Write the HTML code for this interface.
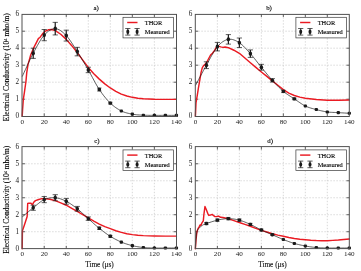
<!DOCTYPE html>
<html><head><meta charset="utf-8"><title>Electrical Conductivity</title>
<style>
html,body{margin:0;padding:0;background:#fff;}
body{width:361px;height:271px;overflow:hidden;font-family:"Liberation Serif",serif;}
svg{display:block;will-change:transform;filter:blur(0.25px);}
</style></head><body>
<svg width="361" height="271" viewBox="0 0 361 271"><g><line x1="44.23" y1="14.20" x2="44.23" y2="116.20" stroke="#bdbdbd" stroke-width="0.6" stroke-dasharray="1.4 1.6"/><line x1="66.26" y1="14.20" x2="66.26" y2="116.20" stroke="#bdbdbd" stroke-width="0.6" stroke-dasharray="1.4 1.6"/><line x1="88.29" y1="14.20" x2="88.29" y2="116.20" stroke="#bdbdbd" stroke-width="0.6" stroke-dasharray="1.4 1.6"/><line x1="110.31" y1="14.20" x2="110.31" y2="116.20" stroke="#bdbdbd" stroke-width="0.6" stroke-dasharray="1.4 1.6"/><line x1="132.34" y1="14.20" x2="132.34" y2="116.20" stroke="#bdbdbd" stroke-width="0.6" stroke-dasharray="1.4 1.6"/><line x1="154.37" y1="14.20" x2="154.37" y2="116.20" stroke="#bdbdbd" stroke-width="0.6" stroke-dasharray="1.4 1.6"/><line x1="22.20" y1="99.20" x2="176.40" y2="99.20" stroke="#bdbdbd" stroke-width="0.6" stroke-dasharray="1.4 1.6"/><line x1="22.20" y1="82.20" x2="176.40" y2="82.20" stroke="#bdbdbd" stroke-width="0.6" stroke-dasharray="1.4 1.6"/><line x1="22.20" y1="65.20" x2="176.40" y2="65.20" stroke="#bdbdbd" stroke-width="0.6" stroke-dasharray="1.4 1.6"/><line x1="22.20" y1="48.20" x2="176.40" y2="48.20" stroke="#bdbdbd" stroke-width="0.6" stroke-dasharray="1.4 1.6"/><line x1="22.20" y1="31.20" x2="176.40" y2="31.20" stroke="#bdbdbd" stroke-width="0.6" stroke-dasharray="1.4 1.6"/><line x1="44.23" y1="116.20" x2="44.23" y2="113.40" stroke="#3a3a3a" stroke-width="0.8"/><line x1="44.23" y1="14.20" x2="44.23" y2="17.00" stroke="#3a3a3a" stroke-width="0.8"/><line x1="66.26" y1="116.20" x2="66.26" y2="113.40" stroke="#3a3a3a" stroke-width="0.8"/><line x1="66.26" y1="14.20" x2="66.26" y2="17.00" stroke="#3a3a3a" stroke-width="0.8"/><line x1="88.29" y1="116.20" x2="88.29" y2="113.40" stroke="#3a3a3a" stroke-width="0.8"/><line x1="88.29" y1="14.20" x2="88.29" y2="17.00" stroke="#3a3a3a" stroke-width="0.8"/><line x1="110.31" y1="116.20" x2="110.31" y2="113.40" stroke="#3a3a3a" stroke-width="0.8"/><line x1="110.31" y1="14.20" x2="110.31" y2="17.00" stroke="#3a3a3a" stroke-width="0.8"/><line x1="132.34" y1="116.20" x2="132.34" y2="113.40" stroke="#3a3a3a" stroke-width="0.8"/><line x1="132.34" y1="14.20" x2="132.34" y2="17.00" stroke="#3a3a3a" stroke-width="0.8"/><line x1="154.37" y1="116.20" x2="154.37" y2="113.40" stroke="#3a3a3a" stroke-width="0.8"/><line x1="154.37" y1="14.20" x2="154.37" y2="17.00" stroke="#3a3a3a" stroke-width="0.8"/><line x1="22.20" y1="99.20" x2="25.00" y2="99.20" stroke="#3a3a3a" stroke-width="0.8"/><line x1="176.40" y1="99.20" x2="173.60" y2="99.20" stroke="#3a3a3a" stroke-width="0.8"/><line x1="22.20" y1="82.20" x2="25.00" y2="82.20" stroke="#3a3a3a" stroke-width="0.8"/><line x1="176.40" y1="82.20" x2="173.60" y2="82.20" stroke="#3a3a3a" stroke-width="0.8"/><line x1="22.20" y1="65.20" x2="25.00" y2="65.20" stroke="#3a3a3a" stroke-width="0.8"/><line x1="176.40" y1="65.20" x2="173.60" y2="65.20" stroke="#3a3a3a" stroke-width="0.8"/><line x1="22.20" y1="48.20" x2="25.00" y2="48.20" stroke="#3a3a3a" stroke-width="0.8"/><line x1="176.40" y1="48.20" x2="173.60" y2="48.20" stroke="#3a3a3a" stroke-width="0.8"/><line x1="22.20" y1="31.20" x2="25.00" y2="31.20" stroke="#3a3a3a" stroke-width="0.8"/><line x1="176.40" y1="31.20" x2="173.60" y2="31.20" stroke="#3a3a3a" stroke-width="0.8"/><path d="M22.20,116.20 L22.60,109.40 L23.30,99.71 L24.40,92.40 L25.94,81.52 L26.72,72.85 L28.04,64.35 L29.25,60.10 L30.68,55.00 L33.54,48.20 L36.63,42.08 L38.50,38.34 L39.82,37.66 L42.69,33.58 L45.33,31.20 L48.30,29.84 L51.94,29.50 L55.24,30.69 L60.75,34.26 L66.26,39.36 L71.76,45.65 L77.27,52.62 L82.78,60.10 L88.29,67.41 L93.79,73.70 L99.30,79.14 L104.81,83.90 L110.31,87.98 L115.82,91.38 L121.33,94.10 L126.84,95.97 L132.34,97.33 L137.85,98.18 L143.36,98.69 L154.37,99.20 L165.39,99.37 L176.40,99.37" fill="none" stroke="#ea1a22" stroke-width="1.45" stroke-linejoin="round" stroke-linecap="round"/><path d="M22.20,76.59 L23.05,74.76 L24.18,72.29 L25.52,69.34 L27.02,66.08 L28.60,62.68 L30.20,59.31 L31.76,56.13 L33.21,53.30 L34.59,50.70 L35.97,48.12 L37.34,45.59 L38.72,43.15 L40.10,40.85 L41.47,38.71 L42.85,36.79 L44.23,35.11 L45.61,33.65 L46.98,32.36 L48.36,31.24 L49.74,30.31 L51.11,29.57 L52.49,29.05 L53.87,28.73 L55.24,28.65 L56.62,28.82 L58.00,29.24 L59.37,29.88 L60.75,30.73 L62.13,31.76 L63.50,32.93 L64.88,34.23 L66.26,35.62 L67.63,37.17 L69.01,38.93 L70.39,40.85 L71.76,42.90 L73.14,45.04 L74.52,47.23 L75.89,49.43 L77.27,51.60 L78.65,53.77 L80.03,55.99 L81.40,58.26 L82.78,60.56 L84.16,62.88 L85.53,65.23 L86.91,67.59 L88.29,69.96 L89.66,72.39 L91.04,74.90 L92.42,77.47 L93.79,80.03 L95.17,82.56 L96.55,85.01 L97.92,87.34 L99.30,89.51 L100.68,91.53 L102.05,93.46 L103.43,95.30 L104.81,97.04 L106.18,98.69 L107.56,100.26 L108.94,101.73 L110.31,103.11 L111.69,104.40 L113.07,105.58 L114.44,106.67 L115.82,107.67 L117.20,108.59 L118.58,109.43 L119.95,110.21 L121.33,110.93 L122.71,111.57 L124.08,112.11 L125.46,112.57 L126.84,112.97 L128.21,113.31 L129.59,113.62 L130.97,113.89 L132.34,114.16 L133.72,114.40 L135.10,114.59 L136.47,114.74 L137.85,114.86 L139.23,114.96 L140.60,115.04 L141.98,115.11 L143.36,115.18 L144.73,115.24 L146.11,115.29 L147.49,115.31 L148.86,115.33 L150.24,115.34 L151.62,115.34 L152.99,115.34 L154.37,115.35 L155.75,115.36 L157.13,115.36 L158.50,115.36 L159.88,115.36 L161.26,115.36 L162.63,115.35 L164.01,115.35 L165.39,115.35 L166.84,115.35 L168.40,115.35 L170.00,115.35 L171.58,115.35 L173.08,115.35 L174.42,115.35 L175.55,115.35 L176.40,115.35" fill="none" stroke="#1a1a1a" stroke-width="0.7" stroke-linejoin="round"/><line x1="33.21" y1="48.20" x2="33.21" y2="58.40" stroke="#1a1a1a" stroke-width="1.2"/><line x1="30.61" y1="48.20" x2="35.81" y2="48.20" stroke="#1a1a1a" stroke-width="0.7"/><line x1="30.61" y1="58.40" x2="35.81" y2="58.40" stroke="#1a1a1a" stroke-width="0.7"/><ellipse cx="33.21" cy="53.30" rx="1.75" ry="2.10" fill="#1a1a1a"/><line x1="44.23" y1="29.50" x2="44.23" y2="40.72" stroke="#1a1a1a" stroke-width="1.2"/><line x1="41.63" y1="29.50" x2="46.83" y2="29.50" stroke="#1a1a1a" stroke-width="0.7"/><line x1="41.63" y1="40.72" x2="46.83" y2="40.72" stroke="#1a1a1a" stroke-width="0.7"/><ellipse cx="44.23" cy="35.11" rx="1.75" ry="2.13" fill="#1a1a1a"/><line x1="55.24" y1="22.36" x2="55.24" y2="34.94" stroke="#1a1a1a" stroke-width="1.2"/><line x1="52.64" y1="22.36" x2="57.84" y2="22.36" stroke="#1a1a1a" stroke-width="0.7"/><line x1="52.64" y1="34.94" x2="57.84" y2="34.94" stroke="#1a1a1a" stroke-width="0.7"/><ellipse cx="55.24" cy="28.65" rx="1.75" ry="2.17" fill="#1a1a1a"/><line x1="66.26" y1="30.18" x2="66.26" y2="41.06" stroke="#1a1a1a" stroke-width="1.2"/><line x1="63.66" y1="30.18" x2="68.86" y2="30.18" stroke="#1a1a1a" stroke-width="0.7"/><line x1="63.66" y1="41.06" x2="68.86" y2="41.06" stroke="#1a1a1a" stroke-width="0.7"/><ellipse cx="66.26" cy="35.62" rx="1.75" ry="2.12" fill="#1a1a1a"/><line x1="77.27" y1="47.35" x2="77.27" y2="55.85" stroke="#1a1a1a" stroke-width="1.2"/><line x1="74.67" y1="47.35" x2="79.87" y2="47.35" stroke="#1a1a1a" stroke-width="0.7"/><line x1="74.67" y1="55.85" x2="79.87" y2="55.85" stroke="#1a1a1a" stroke-width="0.7"/><ellipse cx="77.27" cy="51.60" rx="1.75" ry="2.05" fill="#1a1a1a"/><line x1="88.29" y1="67.24" x2="88.29" y2="72.68" stroke="#1a1a1a" stroke-width="1.2"/><line x1="85.69" y1="67.24" x2="90.89" y2="67.24" stroke="#1a1a1a" stroke-width="0.7"/><line x1="85.69" y1="72.68" x2="90.89" y2="72.68" stroke="#1a1a1a" stroke-width="0.7"/><ellipse cx="88.29" cy="69.96" rx="1.75" ry="1.96" fill="#1a1a1a"/><line x1="97.10" y1="87.98" x2="101.50" y2="87.98" stroke="#1a1a1a" stroke-width="0.6"/><line x1="97.10" y1="91.04" x2="101.50" y2="91.04" stroke="#1a1a1a" stroke-width="0.6"/><rect x="97.60" y="87.81" width="3.4" height="3.4" rx="1.1" fill="#1a1a1a"/><line x1="108.11" y1="102.26" x2="112.51" y2="102.26" stroke="#1a1a1a" stroke-width="0.6"/><line x1="108.11" y1="103.96" x2="112.51" y2="103.96" stroke="#1a1a1a" stroke-width="0.6"/><rect x="108.61" y="101.41" width="3.4" height="3.4" rx="1.1" fill="#1a1a1a"/><rect x="119.68" y="109.38" width="3.3" height="3.1" rx="1.0" fill="#1a1a1a"/><rect x="130.69" y="112.61" width="3.3" height="3.1" rx="1.0" fill="#1a1a1a"/><rect x="141.71" y="113.63" width="3.3" height="3.1" rx="1.0" fill="#1a1a1a"/><rect x="152.72" y="113.80" width="3.3" height="3.1" rx="1.0" fill="#1a1a1a"/><rect x="163.74" y="113.80" width="3.3" height="3.1" rx="1.0" fill="#1a1a1a"/><rect x="174.75" y="113.80" width="3.3" height="3.1" rx="1.0" fill="#1a1a1a"/><rect x="22.00" y="14.40" width="154.50" height="102.10" fill="none" stroke="#505050" stroke-width="1.0"/><text transform="translate(22.20,123.60) scale(1,1)" text-anchor="middle" font-size="7.1" fill="#1a1a1a" font-family="'Liberation Serif', serif">0</text><text transform="translate(44.23,123.60) scale(1,1)" text-anchor="middle" font-size="7.1" fill="#1a1a1a" font-family="'Liberation Serif', serif">20</text><text transform="translate(66.26,123.60) scale(1,1)" text-anchor="middle" font-size="7.1" fill="#1a1a1a" font-family="'Liberation Serif', serif">40</text><text transform="translate(88.29,123.60) scale(1,1)" text-anchor="middle" font-size="7.1" fill="#1a1a1a" font-family="'Liberation Serif', serif">60</text><text transform="translate(110.31,123.60) scale(1,1)" text-anchor="middle" font-size="7.1" fill="#1a1a1a" font-family="'Liberation Serif', serif">80</text><text transform="translate(132.34,123.60) scale(1,1)" text-anchor="middle" font-size="7.1" fill="#1a1a1a" font-family="'Liberation Serif', serif">100</text><text transform="translate(154.37,123.60) scale(1,1)" text-anchor="middle" font-size="7.1" fill="#1a1a1a" font-family="'Liberation Serif', serif">120</text><text transform="translate(176.40,123.60) scale(1,1)" text-anchor="middle" font-size="7.1" fill="#1a1a1a" font-family="'Liberation Serif', serif">140</text><text transform="translate(19.20,118.00) scale(1,1)" text-anchor="end" font-size="7.2" fill="#1a1a1a" font-family="'Liberation Serif', serif">0</text><text transform="translate(19.20,101.00) scale(1,1)" text-anchor="end" font-size="7.2" fill="#1a1a1a" font-family="'Liberation Serif', serif">1</text><text transform="translate(19.20,84.00) scale(1,1)" text-anchor="end" font-size="7.2" fill="#1a1a1a" font-family="'Liberation Serif', serif">2</text><text transform="translate(19.20,67.00) scale(1,1)" text-anchor="end" font-size="7.2" fill="#1a1a1a" font-family="'Liberation Serif', serif">3</text><text transform="translate(19.20,50.00) scale(1,1)" text-anchor="end" font-size="7.2" fill="#1a1a1a" font-family="'Liberation Serif', serif">4</text><text transform="translate(19.20,33.00) scale(1,1)" text-anchor="end" font-size="7.2" fill="#1a1a1a" font-family="'Liberation Serif', serif">5</text><text transform="translate(19.20,16.00) scale(1,1)" text-anchor="end" font-size="7.2" fill="#1a1a1a" font-family="'Liberation Serif', serif">6</text><text x="96.20" y="10.40" text-anchor="middle" font-size="6.9" fill="#000" stroke="#000" stroke-width="0.12" font-family="'Liberation Serif', serif">a)</text><rect x="123.00" y="17.30" width="50.60" height="20.60" fill="#fff" stroke="#3a3a3a" stroke-width="0.7"/><line x1="127.20" y1="22.50" x2="137.50" y2="22.50" stroke="#ea1a22" stroke-width="1.45"/><text x="144.80" y="25.00" font-size="7.1" textLength="17.5" lengthAdjust="spacingAndGlyphs" fill="#000" stroke="#000" stroke-width="0.12" font-family="'Liberation Serif', serif">THOR</text><line x1="127.80" y1="28.50" x2="127.80" y2="35.10" stroke="#1a1a1a" stroke-width="0.9"/><line x1="125.20" y1="28.50" x2="130.40" y2="28.50" stroke="#1a1a1a" stroke-width="0.7"/><line x1="125.20" y1="35.10" x2="130.40" y2="35.10" stroke="#1a1a1a" stroke-width="0.7"/><ellipse cx="127.80" cy="31.80" rx="1.5" ry="2.2" fill="#1a1a1a"/><line x1="137.10" y1="28.50" x2="137.10" y2="35.10" stroke="#1a1a1a" stroke-width="0.9"/><line x1="134.50" y1="28.50" x2="139.70" y2="28.50" stroke="#1a1a1a" stroke-width="0.7"/><line x1="134.50" y1="35.10" x2="139.70" y2="35.10" stroke="#1a1a1a" stroke-width="0.7"/><ellipse cx="137.10" cy="31.80" rx="1.5" ry="2.2" fill="#1a1a1a"/><text x="144.80" y="34.20" font-size="7.0" textLength="25.0" lengthAdjust="spacingAndGlyphs" fill="#000" stroke="#000" stroke-width="0.12" font-family="'Liberation Serif', serif">Measured</text></g><g><line x1="217.39" y1="14.20" x2="217.39" y2="116.20" stroke="#bdbdbd" stroke-width="0.6" stroke-dasharray="1.4 1.6"/><line x1="239.37" y1="14.20" x2="239.37" y2="116.20" stroke="#bdbdbd" stroke-width="0.6" stroke-dasharray="1.4 1.6"/><line x1="261.36" y1="14.20" x2="261.36" y2="116.20" stroke="#bdbdbd" stroke-width="0.6" stroke-dasharray="1.4 1.6"/><line x1="283.34" y1="14.20" x2="283.34" y2="116.20" stroke="#bdbdbd" stroke-width="0.6" stroke-dasharray="1.4 1.6"/><line x1="305.33" y1="14.20" x2="305.33" y2="116.20" stroke="#bdbdbd" stroke-width="0.6" stroke-dasharray="1.4 1.6"/><line x1="327.31" y1="14.20" x2="327.31" y2="116.20" stroke="#bdbdbd" stroke-width="0.6" stroke-dasharray="1.4 1.6"/><line x1="195.40" y1="99.20" x2="349.30" y2="99.20" stroke="#bdbdbd" stroke-width="0.6" stroke-dasharray="1.4 1.6"/><line x1="195.40" y1="82.20" x2="349.30" y2="82.20" stroke="#bdbdbd" stroke-width="0.6" stroke-dasharray="1.4 1.6"/><line x1="195.40" y1="65.20" x2="349.30" y2="65.20" stroke="#bdbdbd" stroke-width="0.6" stroke-dasharray="1.4 1.6"/><line x1="195.40" y1="48.20" x2="349.30" y2="48.20" stroke="#bdbdbd" stroke-width="0.6" stroke-dasharray="1.4 1.6"/><line x1="195.40" y1="31.20" x2="349.30" y2="31.20" stroke="#bdbdbd" stroke-width="0.6" stroke-dasharray="1.4 1.6"/><line x1="217.39" y1="116.20" x2="217.39" y2="113.40" stroke="#3a3a3a" stroke-width="0.8"/><line x1="217.39" y1="14.20" x2="217.39" y2="17.00" stroke="#3a3a3a" stroke-width="0.8"/><line x1="239.37" y1="116.20" x2="239.37" y2="113.40" stroke="#3a3a3a" stroke-width="0.8"/><line x1="239.37" y1="14.20" x2="239.37" y2="17.00" stroke="#3a3a3a" stroke-width="0.8"/><line x1="261.36" y1="116.20" x2="261.36" y2="113.40" stroke="#3a3a3a" stroke-width="0.8"/><line x1="261.36" y1="14.20" x2="261.36" y2="17.00" stroke="#3a3a3a" stroke-width="0.8"/><line x1="283.34" y1="116.20" x2="283.34" y2="113.40" stroke="#3a3a3a" stroke-width="0.8"/><line x1="283.34" y1="14.20" x2="283.34" y2="17.00" stroke="#3a3a3a" stroke-width="0.8"/><line x1="305.33" y1="116.20" x2="305.33" y2="113.40" stroke="#3a3a3a" stroke-width="0.8"/><line x1="305.33" y1="14.20" x2="305.33" y2="17.00" stroke="#3a3a3a" stroke-width="0.8"/><line x1="327.31" y1="116.20" x2="327.31" y2="113.40" stroke="#3a3a3a" stroke-width="0.8"/><line x1="327.31" y1="14.20" x2="327.31" y2="17.00" stroke="#3a3a3a" stroke-width="0.8"/><line x1="195.40" y1="99.20" x2="198.20" y2="99.20" stroke="#3a3a3a" stroke-width="0.8"/><line x1="349.30" y1="99.20" x2="346.50" y2="99.20" stroke="#3a3a3a" stroke-width="0.8"/><line x1="195.40" y1="82.20" x2="198.20" y2="82.20" stroke="#3a3a3a" stroke-width="0.8"/><line x1="349.30" y1="82.20" x2="346.50" y2="82.20" stroke="#3a3a3a" stroke-width="0.8"/><line x1="195.40" y1="65.20" x2="198.20" y2="65.20" stroke="#3a3a3a" stroke-width="0.8"/><line x1="349.30" y1="65.20" x2="346.50" y2="65.20" stroke="#3a3a3a" stroke-width="0.8"/><line x1="195.40" y1="48.20" x2="198.20" y2="48.20" stroke="#3a3a3a" stroke-width="0.8"/><line x1="349.30" y1="48.20" x2="346.50" y2="48.20" stroke="#3a3a3a" stroke-width="0.8"/><line x1="195.40" y1="31.20" x2="198.20" y2="31.20" stroke="#3a3a3a" stroke-width="0.8"/><line x1="349.30" y1="31.20" x2="346.50" y2="31.20" stroke="#3a3a3a" stroke-width="0.8"/><path d="M195.40,116.20 L196.00,102.94 L197.27,95.29 L198.48,87.64 L199.80,80.16 L201.01,72.68 L202.33,67.58 L203.97,65.20 L205.62,63.84 L206.94,61.80 L208.04,59.76 L210.57,55.00 L212.44,53.30 L214.42,50.75 L216.29,47.35 L218.49,46.16 L220.68,46.84 L222.88,47.35 L225.08,47.01 L228.38,47.69 L233.88,50.24 L239.37,53.30 L244.87,58.06 L250.36,62.82 L255.86,67.41 L261.36,72.00 L266.85,76.42 L272.35,80.84 L277.85,85.26 L283.34,89.68 L288.84,93.08 L294.34,95.46 L299.83,97.16 L305.33,98.18 L316.32,99.54 L327.31,100.22 L338.31,100.22 L349.30,100.05" fill="none" stroke="#ea1a22" stroke-width="1.45" stroke-linejoin="round" stroke-linecap="round"/><path d="M195.40,85.60 L196.25,84.01 L197.38,81.89 L198.72,79.36 L200.21,76.56 L201.79,73.61 L203.39,70.65 L204.94,67.80 L206.39,65.20 L207.77,62.72 L209.14,60.17 L210.52,57.62 L211.89,55.12 L213.26,52.71 L214.64,50.47 L216.01,48.44 L217.39,46.67 L218.76,45.15 L220.13,43.80 L221.51,42.64 L222.88,41.64 L224.26,40.82 L225.63,40.17 L227.00,39.68 L228.38,39.36 L229.75,39.22 L231.13,39.28 L232.50,39.52 L233.88,39.92 L235.25,40.47 L236.62,41.13 L238.00,41.90 L239.37,42.76 L240.75,43.74 L242.12,44.89 L243.49,46.17 L244.87,47.56 L246.24,49.03 L247.62,50.55 L248.99,52.10 L250.36,53.64 L251.74,55.21 L253.11,56.86 L254.49,58.56 L255.86,60.30 L257.23,62.06 L258.61,63.81 L259.98,65.55 L261.36,67.24 L262.73,68.91 L264.11,70.60 L265.48,72.28 L266.85,73.94 L268.23,75.59 L269.60,77.21 L270.98,78.79 L272.35,80.33 L273.72,81.83 L275.10,83.32 L276.47,84.78 L277.85,86.21 L279.22,87.59 L280.59,88.92 L281.97,90.18 L283.34,91.38 L284.72,92.49 L286.09,93.51 L287.47,94.46 L288.84,95.36 L290.21,96.24 L291.59,97.10 L292.96,97.97 L294.34,98.86 L295.71,99.79 L297.08,100.75 L298.46,101.72 L299.83,102.67 L301.21,103.60 L302.58,104.47 L303.95,105.28 L305.33,106.00 L306.70,106.63 L308.08,107.17 L309.45,107.65 L310.82,108.08 L312.20,108.48 L313.57,108.84 L314.95,109.21 L316.32,109.57 L317.70,109.94 L319.07,110.29 L320.44,110.62 L321.82,110.94 L323.19,111.23 L324.57,111.50 L325.94,111.74 L327.31,111.95 L328.69,112.12 L330.06,112.24 L331.44,112.33 L332.81,112.40 L334.18,112.45 L335.56,112.50 L336.93,112.56 L338.31,112.63 L339.76,112.72 L341.31,112.82 L342.91,112.91 L344.49,113.01 L345.98,113.10 L347.32,113.19 L348.45,113.26 L349.30,113.31" fill="none" stroke="#1a1a1a" stroke-width="0.7" stroke-linejoin="round"/><line x1="206.39" y1="61.80" x2="206.39" y2="68.60" stroke="#1a1a1a" stroke-width="1.2"/><line x1="203.79" y1="61.80" x2="208.99" y2="61.80" stroke="#1a1a1a" stroke-width="0.7"/><line x1="203.79" y1="68.60" x2="208.99" y2="68.60" stroke="#1a1a1a" stroke-width="0.7"/><ellipse cx="206.39" cy="65.20" rx="1.75" ry="2.00" fill="#1a1a1a"/><line x1="217.39" y1="42.42" x2="217.39" y2="50.92" stroke="#1a1a1a" stroke-width="1.2"/><line x1="214.79" y1="42.42" x2="219.99" y2="42.42" stroke="#1a1a1a" stroke-width="0.7"/><line x1="214.79" y1="50.92" x2="219.99" y2="50.92" stroke="#1a1a1a" stroke-width="0.7"/><ellipse cx="217.39" cy="46.67" rx="1.75" ry="2.05" fill="#1a1a1a"/><line x1="228.38" y1="34.60" x2="228.38" y2="44.12" stroke="#1a1a1a" stroke-width="1.2"/><line x1="225.78" y1="34.60" x2="230.98" y2="34.60" stroke="#1a1a1a" stroke-width="0.7"/><line x1="225.78" y1="44.12" x2="230.98" y2="44.12" stroke="#1a1a1a" stroke-width="0.7"/><ellipse cx="228.38" cy="39.36" rx="1.75" ry="2.08" fill="#1a1a1a"/><line x1="239.37" y1="38.00" x2="239.37" y2="47.52" stroke="#1a1a1a" stroke-width="1.2"/><line x1="236.77" y1="38.00" x2="241.97" y2="38.00" stroke="#1a1a1a" stroke-width="0.7"/><line x1="236.77" y1="47.52" x2="241.97" y2="47.52" stroke="#1a1a1a" stroke-width="0.7"/><ellipse cx="239.37" cy="42.76" rx="1.75" ry="2.08" fill="#1a1a1a"/><line x1="250.36" y1="49.90" x2="250.36" y2="57.38" stroke="#1a1a1a" stroke-width="1.2"/><line x1="247.76" y1="49.90" x2="252.96" y2="49.90" stroke="#1a1a1a" stroke-width="0.7"/><line x1="247.76" y1="57.38" x2="252.96" y2="57.38" stroke="#1a1a1a" stroke-width="0.7"/><ellipse cx="250.36" cy="53.64" rx="1.75" ry="2.02" fill="#1a1a1a"/><line x1="261.36" y1="64.35" x2="261.36" y2="70.13" stroke="#1a1a1a" stroke-width="1.2"/><line x1="258.76" y1="64.35" x2="263.96" y2="64.35" stroke="#1a1a1a" stroke-width="0.7"/><line x1="258.76" y1="70.13" x2="263.96" y2="70.13" stroke="#1a1a1a" stroke-width="0.7"/><ellipse cx="261.36" cy="67.24" rx="1.75" ry="1.97" fill="#1a1a1a"/><line x1="272.35" y1="78.63" x2="272.35" y2="82.03" stroke="#1a1a1a" stroke-width="1.2"/><line x1="269.75" y1="78.63" x2="274.95" y2="78.63" stroke="#1a1a1a" stroke-width="0.7"/><line x1="269.75" y1="82.03" x2="274.95" y2="82.03" stroke="#1a1a1a" stroke-width="0.7"/><ellipse cx="272.35" cy="80.33" rx="1.75" ry="1.90" fill="#1a1a1a"/><line x1="281.14" y1="90.19" x2="285.54" y2="90.19" stroke="#1a1a1a" stroke-width="0.6"/><line x1="281.14" y1="92.57" x2="285.54" y2="92.57" stroke="#1a1a1a" stroke-width="0.6"/><rect x="281.64" y="89.68" width="3.4" height="3.4" rx="1.1" fill="#1a1a1a"/><line x1="292.14" y1="98.01" x2="296.54" y2="98.01" stroke="#1a1a1a" stroke-width="0.6"/><line x1="292.14" y1="99.71" x2="296.54" y2="99.71" stroke="#1a1a1a" stroke-width="0.6"/><rect x="292.64" y="97.16" width="3.4" height="3.4" rx="1.1" fill="#1a1a1a"/><rect x="303.68" y="104.45" width="3.3" height="3.1" rx="1.0" fill="#1a1a1a"/><rect x="314.67" y="108.02" width="3.3" height="3.1" rx="1.0" fill="#1a1a1a"/><rect x="325.66" y="110.40" width="3.3" height="3.1" rx="1.0" fill="#1a1a1a"/><rect x="336.66" y="111.08" width="3.3" height="3.1" rx="1.0" fill="#1a1a1a"/><rect x="347.65" y="111.76" width="3.3" height="3.1" rx="1.0" fill="#1a1a1a"/><rect x="195.30" y="14.40" width="154.00" height="102.10" fill="none" stroke="#505050" stroke-width="1.0"/><text transform="translate(195.40,123.60) scale(1,1)" text-anchor="middle" font-size="7.1" fill="#1a1a1a" font-family="'Liberation Serif', serif">0</text><text transform="translate(217.39,123.60) scale(1,1)" text-anchor="middle" font-size="7.1" fill="#1a1a1a" font-family="'Liberation Serif', serif">20</text><text transform="translate(239.37,123.60) scale(1,1)" text-anchor="middle" font-size="7.1" fill="#1a1a1a" font-family="'Liberation Serif', serif">40</text><text transform="translate(261.36,123.60) scale(1,1)" text-anchor="middle" font-size="7.1" fill="#1a1a1a" font-family="'Liberation Serif', serif">60</text><text transform="translate(283.34,123.60) scale(1,1)" text-anchor="middle" font-size="7.1" fill="#1a1a1a" font-family="'Liberation Serif', serif">80</text><text transform="translate(305.33,123.60) scale(1,1)" text-anchor="middle" font-size="7.1" fill="#1a1a1a" font-family="'Liberation Serif', serif">100</text><text transform="translate(327.31,123.60) scale(1,1)" text-anchor="middle" font-size="7.1" fill="#1a1a1a" font-family="'Liberation Serif', serif">120</text><text transform="translate(349.30,123.60) scale(1,1)" text-anchor="middle" font-size="7.1" fill="#1a1a1a" font-family="'Liberation Serif', serif">140</text><text transform="translate(192.40,118.00) scale(1,1)" text-anchor="end" font-size="7.2" fill="#1a1a1a" font-family="'Liberation Serif', serif">0</text><text transform="translate(192.40,101.00) scale(1,1)" text-anchor="end" font-size="7.2" fill="#1a1a1a" font-family="'Liberation Serif', serif">1</text><text transform="translate(192.40,84.00) scale(1,1)" text-anchor="end" font-size="7.2" fill="#1a1a1a" font-family="'Liberation Serif', serif">2</text><text transform="translate(192.40,67.00) scale(1,1)" text-anchor="end" font-size="7.2" fill="#1a1a1a" font-family="'Liberation Serif', serif">3</text><text transform="translate(192.40,50.00) scale(1,1)" text-anchor="end" font-size="7.2" fill="#1a1a1a" font-family="'Liberation Serif', serif">4</text><text transform="translate(192.40,33.00) scale(1,1)" text-anchor="end" font-size="7.2" fill="#1a1a1a" font-family="'Liberation Serif', serif">5</text><text transform="translate(192.40,16.00) scale(1,1)" text-anchor="end" font-size="7.2" fill="#1a1a1a" font-family="'Liberation Serif', serif">6</text><text x="269.00" y="10.40" text-anchor="middle" font-size="6.9" fill="#000" stroke="#000" stroke-width="0.12" font-family="'Liberation Serif', serif">b)</text><rect x="295.90" y="17.30" width="50.60" height="20.60" fill="#fff" stroke="#3a3a3a" stroke-width="0.7"/><line x1="300.10" y1="22.50" x2="310.40" y2="22.50" stroke="#ea1a22" stroke-width="1.45"/><text x="317.70" y="25.00" font-size="7.1" textLength="17.5" lengthAdjust="spacingAndGlyphs" fill="#000" stroke="#000" stroke-width="0.12" font-family="'Liberation Serif', serif">THOR</text><line x1="300.70" y1="28.50" x2="300.70" y2="35.10" stroke="#1a1a1a" stroke-width="0.9"/><line x1="298.10" y1="28.50" x2="303.30" y2="28.50" stroke="#1a1a1a" stroke-width="0.7"/><line x1="298.10" y1="35.10" x2="303.30" y2="35.10" stroke="#1a1a1a" stroke-width="0.7"/><ellipse cx="300.70" cy="31.80" rx="1.5" ry="2.2" fill="#1a1a1a"/><line x1="310.00" y1="28.50" x2="310.00" y2="35.10" stroke="#1a1a1a" stroke-width="0.9"/><line x1="307.40" y1="28.50" x2="312.60" y2="28.50" stroke="#1a1a1a" stroke-width="0.7"/><line x1="307.40" y1="35.10" x2="312.60" y2="35.10" stroke="#1a1a1a" stroke-width="0.7"/><ellipse cx="310.00" cy="31.80" rx="1.5" ry="2.2" fill="#1a1a1a"/><text x="317.70" y="34.20" font-size="7.0" textLength="25.0" lengthAdjust="spacingAndGlyphs" fill="#000" stroke="#000" stroke-width="0.12" font-family="'Liberation Serif', serif">Measured</text></g><g><line x1="44.23" y1="146.80" x2="44.23" y2="248.70" stroke="#bdbdbd" stroke-width="0.6" stroke-dasharray="1.4 1.6"/><line x1="66.26" y1="146.80" x2="66.26" y2="248.70" stroke="#bdbdbd" stroke-width="0.6" stroke-dasharray="1.4 1.6"/><line x1="88.29" y1="146.80" x2="88.29" y2="248.70" stroke="#bdbdbd" stroke-width="0.6" stroke-dasharray="1.4 1.6"/><line x1="110.31" y1="146.80" x2="110.31" y2="248.70" stroke="#bdbdbd" stroke-width="0.6" stroke-dasharray="1.4 1.6"/><line x1="132.34" y1="146.80" x2="132.34" y2="248.70" stroke="#bdbdbd" stroke-width="0.6" stroke-dasharray="1.4 1.6"/><line x1="154.37" y1="146.80" x2="154.37" y2="248.70" stroke="#bdbdbd" stroke-width="0.6" stroke-dasharray="1.4 1.6"/><line x1="22.20" y1="231.72" x2="176.40" y2="231.72" stroke="#bdbdbd" stroke-width="0.6" stroke-dasharray="1.4 1.6"/><line x1="22.20" y1="214.73" x2="176.40" y2="214.73" stroke="#bdbdbd" stroke-width="0.6" stroke-dasharray="1.4 1.6"/><line x1="22.20" y1="197.75" x2="176.40" y2="197.75" stroke="#bdbdbd" stroke-width="0.6" stroke-dasharray="1.4 1.6"/><line x1="22.20" y1="180.77" x2="176.40" y2="180.77" stroke="#bdbdbd" stroke-width="0.6" stroke-dasharray="1.4 1.6"/><line x1="22.20" y1="163.78" x2="176.40" y2="163.78" stroke="#bdbdbd" stroke-width="0.6" stroke-dasharray="1.4 1.6"/><line x1="44.23" y1="248.70" x2="44.23" y2="245.90" stroke="#3a3a3a" stroke-width="0.8"/><line x1="44.23" y1="146.80" x2="44.23" y2="149.60" stroke="#3a3a3a" stroke-width="0.8"/><line x1="66.26" y1="248.70" x2="66.26" y2="245.90" stroke="#3a3a3a" stroke-width="0.8"/><line x1="66.26" y1="146.80" x2="66.26" y2="149.60" stroke="#3a3a3a" stroke-width="0.8"/><line x1="88.29" y1="248.70" x2="88.29" y2="245.90" stroke="#3a3a3a" stroke-width="0.8"/><line x1="88.29" y1="146.80" x2="88.29" y2="149.60" stroke="#3a3a3a" stroke-width="0.8"/><line x1="110.31" y1="248.70" x2="110.31" y2="245.90" stroke="#3a3a3a" stroke-width="0.8"/><line x1="110.31" y1="146.80" x2="110.31" y2="149.60" stroke="#3a3a3a" stroke-width="0.8"/><line x1="132.34" y1="248.70" x2="132.34" y2="245.90" stroke="#3a3a3a" stroke-width="0.8"/><line x1="132.34" y1="146.80" x2="132.34" y2="149.60" stroke="#3a3a3a" stroke-width="0.8"/><line x1="154.37" y1="248.70" x2="154.37" y2="245.90" stroke="#3a3a3a" stroke-width="0.8"/><line x1="154.37" y1="146.80" x2="154.37" y2="149.60" stroke="#3a3a3a" stroke-width="0.8"/><line x1="22.20" y1="231.72" x2="25.00" y2="231.72" stroke="#3a3a3a" stroke-width="0.8"/><line x1="176.40" y1="231.72" x2="173.60" y2="231.72" stroke="#3a3a3a" stroke-width="0.8"/><line x1="22.20" y1="214.73" x2="25.00" y2="214.73" stroke="#3a3a3a" stroke-width="0.8"/><line x1="176.40" y1="214.73" x2="173.60" y2="214.73" stroke="#3a3a3a" stroke-width="0.8"/><line x1="22.20" y1="197.75" x2="25.00" y2="197.75" stroke="#3a3a3a" stroke-width="0.8"/><line x1="176.40" y1="197.75" x2="173.60" y2="197.75" stroke="#3a3a3a" stroke-width="0.8"/><line x1="22.20" y1="180.77" x2="25.00" y2="180.77" stroke="#3a3a3a" stroke-width="0.8"/><line x1="176.40" y1="180.77" x2="173.60" y2="180.77" stroke="#3a3a3a" stroke-width="0.8"/><line x1="22.20" y1="163.78" x2="25.00" y2="163.78" stroke="#3a3a3a" stroke-width="0.8"/><line x1="176.40" y1="163.78" x2="173.60" y2="163.78" stroke="#3a3a3a" stroke-width="0.8"/><path d="M22.20,248.70 L22.42,230.87 L24.40,224.92 L27.16,216.43 L27.71,203.52 L28.81,203.18 L31.01,203.18 L32.44,204.88 L33.77,202.17 L35.42,200.64 L38.72,199.45 L42.03,198.60 L44.23,198.60 L49.74,199.28 L55.24,200.64 L60.75,202.84 L66.26,205.22 L71.76,208.28 L77.27,211.34 L82.78,214.56 L88.29,217.79 L93.79,221.19 L99.30,224.07 L104.81,226.62 L110.31,228.66 L115.82,230.70 L121.33,232.40 L126.84,233.75 L132.34,234.60 L137.85,235.28 L143.36,235.62 L154.37,235.96 L165.39,236.13 L176.40,236.13" fill="none" stroke="#ea1a22" stroke-width="1.45" stroke-linejoin="round" stroke-linecap="round"/><path d="M22.20,216.94 L23.05,216.23 L24.18,215.27 L25.52,214.13 L27.02,212.87 L28.60,211.54 L30.20,210.21 L31.76,208.93 L33.21,207.77 L34.59,206.66 L35.97,205.51 L37.34,204.36 L38.72,203.24 L40.10,202.17 L41.47,201.19 L42.85,200.33 L44.23,199.62 L45.61,199.05 L46.98,198.58 L48.36,198.22 L49.74,197.95 L51.11,197.78 L52.49,197.69 L53.87,197.68 L55.24,197.75 L56.62,197.91 L58.00,198.17 L59.37,198.52 L60.75,198.95 L62.13,199.45 L63.50,200.02 L64.88,200.65 L66.26,201.32 L67.63,202.05 L69.01,202.85 L70.39,203.73 L71.76,204.66 L73.14,205.64 L74.52,206.66 L75.89,207.71 L77.27,208.79 L78.65,209.91 L80.03,211.09 L81.40,212.32 L82.78,213.58 L84.16,214.85 L85.53,216.13 L86.91,217.40 L88.29,218.64 L89.66,219.87 L91.04,221.11 L92.42,222.36 L93.79,223.60 L95.17,224.82 L96.55,226.02 L97.92,227.19 L99.30,228.32 L100.68,229.41 L102.05,230.49 L103.43,231.53 L104.81,232.56 L106.18,233.55 L107.56,234.50 L108.94,235.42 L110.31,236.30 L111.69,237.14 L113.07,237.95 L114.44,238.73 L115.82,239.47 L117.20,240.17 L118.58,240.84 L119.95,241.48 L121.33,242.08 L122.71,242.64 L124.08,243.16 L125.46,243.65 L126.84,244.10 L128.21,244.53 L129.59,244.92 L130.97,245.29 L132.34,245.64 L133.72,245.97 L135.10,246.26 L136.47,246.53 L137.85,246.77 L139.23,246.98 L140.60,247.18 L141.98,247.35 L143.36,247.51 L144.73,247.64 L146.11,247.75 L147.49,247.82 L148.86,247.88 L150.24,247.93 L151.62,247.96 L152.99,247.99 L154.37,248.02 L155.75,248.05 L157.13,248.06 L158.50,248.06 L159.88,248.05 L161.26,248.04 L162.63,248.03 L164.01,248.02 L165.39,248.02 L166.84,248.02 L168.40,248.02 L170.00,248.02 L171.58,248.02 L173.08,248.02 L174.42,248.02 L175.55,248.02 L176.40,248.02" fill="none" stroke="#1a1a1a" stroke-width="0.7" stroke-linejoin="round"/><line x1="33.21" y1="205.22" x2="33.21" y2="210.32" stroke="#1a1a1a" stroke-width="1.2"/><line x1="30.61" y1="205.22" x2="35.81" y2="205.22" stroke="#1a1a1a" stroke-width="0.7"/><line x1="30.61" y1="210.32" x2="35.81" y2="210.32" stroke="#1a1a1a" stroke-width="0.7"/><ellipse cx="33.21" cy="207.77" rx="1.75" ry="1.95" fill="#1a1a1a"/><line x1="44.23" y1="196.56" x2="44.23" y2="202.68" stroke="#1a1a1a" stroke-width="1.2"/><line x1="41.63" y1="196.56" x2="46.83" y2="196.56" stroke="#1a1a1a" stroke-width="0.7"/><line x1="41.63" y1="202.68" x2="46.83" y2="202.68" stroke="#1a1a1a" stroke-width="0.7"/><ellipse cx="44.23" cy="199.62" rx="1.75" ry="1.98" fill="#1a1a1a"/><line x1="55.24" y1="194.69" x2="55.24" y2="200.81" stroke="#1a1a1a" stroke-width="1.2"/><line x1="52.64" y1="194.69" x2="57.84" y2="194.69" stroke="#1a1a1a" stroke-width="0.7"/><line x1="52.64" y1="200.81" x2="57.84" y2="200.81" stroke="#1a1a1a" stroke-width="0.7"/><ellipse cx="55.24" cy="197.75" rx="1.75" ry="1.98" fill="#1a1a1a"/><line x1="66.26" y1="198.43" x2="66.26" y2="204.20" stroke="#1a1a1a" stroke-width="1.2"/><line x1="63.66" y1="198.43" x2="68.86" y2="198.43" stroke="#1a1a1a" stroke-width="0.7"/><line x1="63.66" y1="204.20" x2="68.86" y2="204.20" stroke="#1a1a1a" stroke-width="0.7"/><ellipse cx="66.26" cy="201.32" rx="1.75" ry="1.97" fill="#1a1a1a"/><line x1="77.27" y1="206.41" x2="77.27" y2="211.17" stroke="#1a1a1a" stroke-width="1.2"/><line x1="74.67" y1="206.41" x2="79.87" y2="206.41" stroke="#1a1a1a" stroke-width="0.7"/><line x1="74.67" y1="211.17" x2="79.87" y2="211.17" stroke="#1a1a1a" stroke-width="0.7"/><ellipse cx="77.27" cy="208.79" rx="1.75" ry="1.94" fill="#1a1a1a"/><line x1="88.29" y1="216.94" x2="88.29" y2="220.34" stroke="#1a1a1a" stroke-width="1.2"/><line x1="85.69" y1="216.94" x2="90.89" y2="216.94" stroke="#1a1a1a" stroke-width="0.7"/><line x1="85.69" y1="220.34" x2="90.89" y2="220.34" stroke="#1a1a1a" stroke-width="0.7"/><ellipse cx="88.29" cy="218.64" rx="1.75" ry="1.90" fill="#1a1a1a"/><line x1="97.10" y1="227.13" x2="101.50" y2="227.13" stroke="#1a1a1a" stroke-width="0.6"/><line x1="97.10" y1="229.51" x2="101.50" y2="229.51" stroke="#1a1a1a" stroke-width="0.6"/><rect x="97.60" y="226.62" width="3.4" height="3.4" rx="1.1" fill="#1a1a1a"/><line x1="108.11" y1="235.45" x2="112.51" y2="235.45" stroke="#1a1a1a" stroke-width="0.6"/><line x1="108.11" y1="237.15" x2="112.51" y2="237.15" stroke="#1a1a1a" stroke-width="0.6"/><rect x="108.61" y="234.60" width="3.4" height="3.4" rx="1.1" fill="#1a1a1a"/><rect x="119.68" y="240.53" width="3.3" height="3.1" rx="1.0" fill="#1a1a1a"/><rect x="130.69" y="244.09" width="3.3" height="3.1" rx="1.0" fill="#1a1a1a"/><rect x="141.71" y="245.96" width="3.3" height="3.1" rx="1.0" fill="#1a1a1a"/><rect x="152.72" y="246.47" width="3.3" height="3.1" rx="1.0" fill="#1a1a1a"/><rect x="163.74" y="246.47" width="3.3" height="3.1" rx="1.0" fill="#1a1a1a"/><rect x="174.75" y="246.47" width="3.3" height="3.1" rx="1.0" fill="#1a1a1a"/><rect x="22.00" y="146.60" width="154.50" height="102.00" fill="none" stroke="#505050" stroke-width="1.0"/><text transform="translate(22.20,256.10) scale(1,1)" text-anchor="middle" font-size="7.1" fill="#1a1a1a" font-family="'Liberation Serif', serif">0</text><text transform="translate(44.23,256.10) scale(1,1)" text-anchor="middle" font-size="7.1" fill="#1a1a1a" font-family="'Liberation Serif', serif">20</text><text transform="translate(66.26,256.10) scale(1,1)" text-anchor="middle" font-size="7.1" fill="#1a1a1a" font-family="'Liberation Serif', serif">40</text><text transform="translate(88.29,256.10) scale(1,1)" text-anchor="middle" font-size="7.1" fill="#1a1a1a" font-family="'Liberation Serif', serif">60</text><text transform="translate(110.31,256.10) scale(1,1)" text-anchor="middle" font-size="7.1" fill="#1a1a1a" font-family="'Liberation Serif', serif">80</text><text transform="translate(132.34,256.10) scale(1,1)" text-anchor="middle" font-size="7.1" fill="#1a1a1a" font-family="'Liberation Serif', serif">100</text><text transform="translate(154.37,256.10) scale(1,1)" text-anchor="middle" font-size="7.1" fill="#1a1a1a" font-family="'Liberation Serif', serif">120</text><text transform="translate(176.40,256.10) scale(1,1)" text-anchor="middle" font-size="7.1" fill="#1a1a1a" font-family="'Liberation Serif', serif">140</text><text transform="translate(19.20,250.50) scale(1,1)" text-anchor="end" font-size="7.2" fill="#1a1a1a" font-family="'Liberation Serif', serif">0</text><text transform="translate(19.20,233.52) scale(1,1)" text-anchor="end" font-size="7.2" fill="#1a1a1a" font-family="'Liberation Serif', serif">1</text><text transform="translate(19.20,216.53) scale(1,1)" text-anchor="end" font-size="7.2" fill="#1a1a1a" font-family="'Liberation Serif', serif">2</text><text transform="translate(19.20,199.55) scale(1,1)" text-anchor="end" font-size="7.2" fill="#1a1a1a" font-family="'Liberation Serif', serif">3</text><text transform="translate(19.20,182.57) scale(1,1)" text-anchor="end" font-size="7.2" fill="#1a1a1a" font-family="'Liberation Serif', serif">4</text><text transform="translate(19.20,165.58) scale(1,1)" text-anchor="end" font-size="7.2" fill="#1a1a1a" font-family="'Liberation Serif', serif">5</text><text transform="translate(19.20,148.60) scale(1,1)" text-anchor="end" font-size="7.2" fill="#1a1a1a" font-family="'Liberation Serif', serif">6</text><text x="97.00" y="143.00" text-anchor="middle" font-size="6.9" fill="#000" stroke="#000" stroke-width="0.12" font-family="'Liberation Serif', serif">c)</text><rect x="123.00" y="149.90" width="50.60" height="20.60" fill="#fff" stroke="#3a3a3a" stroke-width="0.7"/><line x1="127.20" y1="155.10" x2="137.50" y2="155.10" stroke="#ea1a22" stroke-width="1.45"/><text x="144.80" y="157.60" font-size="7.1" textLength="17.5" lengthAdjust="spacingAndGlyphs" fill="#000" stroke="#000" stroke-width="0.12" font-family="'Liberation Serif', serif">THOR</text><line x1="127.80" y1="161.10" x2="127.80" y2="167.70" stroke="#1a1a1a" stroke-width="0.9"/><line x1="125.20" y1="161.10" x2="130.40" y2="161.10" stroke="#1a1a1a" stroke-width="0.7"/><line x1="125.20" y1="167.70" x2="130.40" y2="167.70" stroke="#1a1a1a" stroke-width="0.7"/><ellipse cx="127.80" cy="164.40" rx="1.5" ry="2.2" fill="#1a1a1a"/><line x1="137.10" y1="161.10" x2="137.10" y2="167.70" stroke="#1a1a1a" stroke-width="0.9"/><line x1="134.50" y1="161.10" x2="139.70" y2="161.10" stroke="#1a1a1a" stroke-width="0.7"/><line x1="134.50" y1="167.70" x2="139.70" y2="167.70" stroke="#1a1a1a" stroke-width="0.7"/><ellipse cx="137.10" cy="164.40" rx="1.5" ry="2.2" fill="#1a1a1a"/><text x="144.80" y="166.80" font-size="7.0" textLength="25.0" lengthAdjust="spacingAndGlyphs" fill="#000" stroke="#000" stroke-width="0.12" font-family="'Liberation Serif', serif">Measured</text></g><g><line x1="217.39" y1="146.80" x2="217.39" y2="248.70" stroke="#bdbdbd" stroke-width="0.6" stroke-dasharray="1.4 1.6"/><line x1="239.37" y1="146.80" x2="239.37" y2="248.70" stroke="#bdbdbd" stroke-width="0.6" stroke-dasharray="1.4 1.6"/><line x1="261.36" y1="146.80" x2="261.36" y2="248.70" stroke="#bdbdbd" stroke-width="0.6" stroke-dasharray="1.4 1.6"/><line x1="283.34" y1="146.80" x2="283.34" y2="248.70" stroke="#bdbdbd" stroke-width="0.6" stroke-dasharray="1.4 1.6"/><line x1="305.33" y1="146.80" x2="305.33" y2="248.70" stroke="#bdbdbd" stroke-width="0.6" stroke-dasharray="1.4 1.6"/><line x1="327.31" y1="146.80" x2="327.31" y2="248.70" stroke="#bdbdbd" stroke-width="0.6" stroke-dasharray="1.4 1.6"/><line x1="195.40" y1="231.72" x2="349.30" y2="231.72" stroke="#bdbdbd" stroke-width="0.6" stroke-dasharray="1.4 1.6"/><line x1="195.40" y1="214.73" x2="349.30" y2="214.73" stroke="#bdbdbd" stroke-width="0.6" stroke-dasharray="1.4 1.6"/><line x1="195.40" y1="197.75" x2="349.30" y2="197.75" stroke="#bdbdbd" stroke-width="0.6" stroke-dasharray="1.4 1.6"/><line x1="195.40" y1="180.77" x2="349.30" y2="180.77" stroke="#bdbdbd" stroke-width="0.6" stroke-dasharray="1.4 1.6"/><line x1="195.40" y1="163.78" x2="349.30" y2="163.78" stroke="#bdbdbd" stroke-width="0.6" stroke-dasharray="1.4 1.6"/><line x1="217.39" y1="248.70" x2="217.39" y2="245.90" stroke="#3a3a3a" stroke-width="0.8"/><line x1="217.39" y1="146.80" x2="217.39" y2="149.60" stroke="#3a3a3a" stroke-width="0.8"/><line x1="239.37" y1="248.70" x2="239.37" y2="245.90" stroke="#3a3a3a" stroke-width="0.8"/><line x1="239.37" y1="146.80" x2="239.37" y2="149.60" stroke="#3a3a3a" stroke-width="0.8"/><line x1="261.36" y1="248.70" x2="261.36" y2="245.90" stroke="#3a3a3a" stroke-width="0.8"/><line x1="261.36" y1="146.80" x2="261.36" y2="149.60" stroke="#3a3a3a" stroke-width="0.8"/><line x1="283.34" y1="248.70" x2="283.34" y2="245.90" stroke="#3a3a3a" stroke-width="0.8"/><line x1="283.34" y1="146.80" x2="283.34" y2="149.60" stroke="#3a3a3a" stroke-width="0.8"/><line x1="305.33" y1="248.70" x2="305.33" y2="245.90" stroke="#3a3a3a" stroke-width="0.8"/><line x1="305.33" y1="146.80" x2="305.33" y2="149.60" stroke="#3a3a3a" stroke-width="0.8"/><line x1="327.31" y1="248.70" x2="327.31" y2="245.90" stroke="#3a3a3a" stroke-width="0.8"/><line x1="327.31" y1="146.80" x2="327.31" y2="149.60" stroke="#3a3a3a" stroke-width="0.8"/><line x1="195.40" y1="231.72" x2="198.20" y2="231.72" stroke="#3a3a3a" stroke-width="0.8"/><line x1="349.30" y1="231.72" x2="346.50" y2="231.72" stroke="#3a3a3a" stroke-width="0.8"/><line x1="195.40" y1="214.73" x2="198.20" y2="214.73" stroke="#3a3a3a" stroke-width="0.8"/><line x1="349.30" y1="214.73" x2="346.50" y2="214.73" stroke="#3a3a3a" stroke-width="0.8"/><line x1="195.40" y1="197.75" x2="198.20" y2="197.75" stroke="#3a3a3a" stroke-width="0.8"/><line x1="349.30" y1="197.75" x2="346.50" y2="197.75" stroke="#3a3a3a" stroke-width="0.8"/><line x1="195.40" y1="180.77" x2="198.20" y2="180.77" stroke="#3a3a3a" stroke-width="0.8"/><line x1="349.30" y1="180.77" x2="346.50" y2="180.77" stroke="#3a3a3a" stroke-width="0.8"/><line x1="195.40" y1="163.78" x2="198.20" y2="163.78" stroke="#3a3a3a" stroke-width="0.8"/><line x1="349.30" y1="163.78" x2="346.50" y2="163.78" stroke="#3a3a3a" stroke-width="0.8"/><path d="M195.40,248.70 L195.95,240.21 L196.94,231.72 L198.15,228.32 L199.25,226.62 L200.13,224.92 L200.90,225.43 L201.56,223.73 L202.44,222.21 L203.31,220.85 L203.86,214.73 L204.96,206.58 L206.06,208.96 L207.71,213.37 L208.81,215.41 L210.46,215.07 L212.22,214.39 L213.32,215.41 L214.97,216.60 L216.84,216.43 L218.49,216.09 L220.68,217.28 L222.88,217.45 L228.38,218.81 L233.88,220.68 L239.37,222.55 L244.87,224.41 L250.36,226.28 L255.86,228.32 L261.36,230.36 L266.85,232.06 L272.35,233.75 L277.85,235.11 L283.34,236.30 L288.84,237.49 L294.34,238.51 L299.83,239.19 L305.33,239.70 L310.82,240.21 L316.32,240.55 L321.82,240.72 L327.31,240.72 L332.81,240.38 L338.31,240.04 L343.80,239.53 L349.30,239.02" fill="none" stroke="#ea1a22" stroke-width="1.45" stroke-linejoin="round" stroke-linecap="round"/><path d="M195.40,248.70 L195.44,248.04 L195.49,247.17 L195.55,246.14 L195.61,244.98 L195.69,243.77 L195.77,242.53 L195.86,241.33 L195.95,240.21 L196.04,239.11 L196.14,237.97 L196.24,236.81 L196.35,235.65 L196.47,234.54 L196.60,233.49 L196.76,232.54 L196.94,231.72 L197.15,231.02 L197.38,230.44 L197.63,229.95 L197.90,229.53 L198.18,229.16 L198.46,228.82 L198.75,228.49 L199.03,228.15 L199.31,227.82 L199.60,227.52 L199.89,227.24 L200.19,226.99 L200.48,226.76 L200.78,226.54 L201.06,226.32 L201.34,226.11 L201.59,225.91 L201.83,225.72 L202.05,225.55 L202.28,225.38 L202.51,225.22 L202.75,225.07 L203.02,224.91 L203.31,224.75 L203.59,224.61 L203.82,224.50 L204.04,224.39 L204.29,224.29 L204.61,224.16 L205.04,224.01 L205.62,223.82 L206.39,223.56 L207.39,223.23 L208.58,222.83 L209.94,222.37 L211.39,221.89 L212.92,221.40 L214.45,220.94 L215.96,220.52 L217.39,220.17 L218.76,219.87 L220.13,219.58 L221.51,219.32 L222.88,219.10 L224.26,218.91 L225.63,218.76 L227.00,218.67 L228.38,218.64 L229.75,218.67 L231.13,218.74 L232.50,218.87 L233.88,219.04 L235.25,219.26 L236.62,219.52 L238.00,219.83 L239.37,220.17 L240.75,220.56 L242.12,221.01 L243.49,221.50 L244.87,222.04 L246.24,222.60 L247.62,223.19 L248.99,223.80 L250.36,224.41 L251.74,225.06 L253.11,225.74 L254.49,226.45 L255.86,227.18 L257.23,227.92 L258.61,228.65 L259.98,229.35 L261.36,230.02 L262.73,230.65 L264.11,231.27 L265.48,231.86 L266.85,232.45 L268.23,233.03 L269.60,233.60 L270.98,234.19 L272.35,234.77 L273.72,235.37 L275.10,235.98 L276.47,236.59 L277.85,237.20 L279.22,237.81 L280.59,238.40 L281.97,238.98 L283.34,239.53 L284.72,240.07 L286.09,240.60 L287.47,241.12 L288.84,241.62 L290.21,242.11 L291.59,242.57 L292.96,243.02 L294.34,243.44 L295.71,243.83 L297.08,244.19 L298.46,244.53 L299.83,244.86 L301.21,245.16 L302.58,245.45 L303.95,245.72 L305.33,245.98 L306.70,246.23 L308.08,246.46 L309.45,246.68 L310.82,246.87 L312.20,247.06 L313.57,247.22 L314.95,247.38 L316.32,247.51 L317.70,247.63 L319.07,247.72 L320.44,247.80 L321.82,247.86 L323.19,247.91 L324.57,247.95 L325.94,247.99 L327.31,248.02 L328.69,248.05 L330.06,248.06 L331.44,248.06 L332.81,248.05 L334.18,248.04 L335.56,248.03 L336.93,248.02 L338.31,248.02 L339.76,248.02 L341.31,248.02 L342.91,248.02 L344.49,248.02 L345.98,248.02 L347.32,248.02 L348.45,248.02 L349.30,248.02" fill="none" stroke="#1a1a1a" stroke-width="0.7" stroke-linejoin="round"/><line x1="204.19" y1="222.55" x2="208.59" y2="222.55" stroke="#1a1a1a" stroke-width="0.6"/><line x1="204.19" y1="224.58" x2="208.59" y2="224.58" stroke="#1a1a1a" stroke-width="0.6"/><rect x="204.69" y="221.86" width="3.4" height="3.4" rx="1.1" fill="#1a1a1a"/><line x1="215.19" y1="218.98" x2="219.59" y2="218.98" stroke="#1a1a1a" stroke-width="0.6"/><line x1="215.19" y1="221.36" x2="219.59" y2="221.36" stroke="#1a1a1a" stroke-width="0.6"/><rect x="215.69" y="218.47" width="3.4" height="3.4" rx="1.1" fill="#1a1a1a"/><line x1="226.18" y1="217.45" x2="230.58" y2="217.45" stroke="#1a1a1a" stroke-width="0.6"/><line x1="226.18" y1="219.83" x2="230.58" y2="219.83" stroke="#1a1a1a" stroke-width="0.6"/><rect x="226.68" y="216.94" width="3.4" height="3.4" rx="1.1" fill="#1a1a1a"/><line x1="237.17" y1="218.98" x2="241.57" y2="218.98" stroke="#1a1a1a" stroke-width="0.6"/><line x1="237.17" y1="221.36" x2="241.57" y2="221.36" stroke="#1a1a1a" stroke-width="0.6"/><rect x="237.67" y="218.47" width="3.4" height="3.4" rx="1.1" fill="#1a1a1a"/><line x1="248.16" y1="223.39" x2="252.56" y2="223.39" stroke="#1a1a1a" stroke-width="0.6"/><line x1="248.16" y1="225.43" x2="252.56" y2="225.43" stroke="#1a1a1a" stroke-width="0.6"/><rect x="248.66" y="222.71" width="3.4" height="3.4" rx="1.1" fill="#1a1a1a"/><line x1="259.16" y1="229.17" x2="263.56" y2="229.17" stroke="#1a1a1a" stroke-width="0.6"/><line x1="259.16" y1="230.87" x2="263.56" y2="230.87" stroke="#1a1a1a" stroke-width="0.6"/><rect x="259.66" y="228.32" width="3.4" height="3.4" rx="1.1" fill="#1a1a1a"/><line x1="270.15" y1="234.09" x2="274.55" y2="234.09" stroke="#1a1a1a" stroke-width="0.6"/><line x1="270.15" y1="235.45" x2="274.55" y2="235.45" stroke="#1a1a1a" stroke-width="0.6"/><rect x="270.65" y="233.07" width="3.4" height="3.4" rx="1.1" fill="#1a1a1a"/><rect x="281.69" y="237.98" width="3.3" height="3.1" rx="1.0" fill="#1a1a1a"/><rect x="292.69" y="241.89" width="3.3" height="3.1" rx="1.0" fill="#1a1a1a"/><rect x="303.68" y="244.43" width="3.3" height="3.1" rx="1.0" fill="#1a1a1a"/><rect x="314.67" y="245.96" width="3.3" height="3.1" rx="1.0" fill="#1a1a1a"/><rect x="325.66" y="246.47" width="3.3" height="3.1" rx="1.0" fill="#1a1a1a"/><rect x="336.66" y="246.47" width="3.3" height="3.1" rx="1.0" fill="#1a1a1a"/><rect x="347.65" y="246.47" width="3.3" height="3.1" rx="1.0" fill="#1a1a1a"/><rect x="195.30" y="146.60" width="154.00" height="102.00" fill="none" stroke="#505050" stroke-width="1.0"/><text transform="translate(195.40,256.10) scale(1,1)" text-anchor="middle" font-size="7.1" fill="#1a1a1a" font-family="'Liberation Serif', serif">0</text><text transform="translate(217.39,256.10) scale(1,1)" text-anchor="middle" font-size="7.1" fill="#1a1a1a" font-family="'Liberation Serif', serif">20</text><text transform="translate(239.37,256.10) scale(1,1)" text-anchor="middle" font-size="7.1" fill="#1a1a1a" font-family="'Liberation Serif', serif">40</text><text transform="translate(261.36,256.10) scale(1,1)" text-anchor="middle" font-size="7.1" fill="#1a1a1a" font-family="'Liberation Serif', serif">60</text><text transform="translate(283.34,256.10) scale(1,1)" text-anchor="middle" font-size="7.1" fill="#1a1a1a" font-family="'Liberation Serif', serif">80</text><text transform="translate(305.33,256.10) scale(1,1)" text-anchor="middle" font-size="7.1" fill="#1a1a1a" font-family="'Liberation Serif', serif">100</text><text transform="translate(327.31,256.10) scale(1,1)" text-anchor="middle" font-size="7.1" fill="#1a1a1a" font-family="'Liberation Serif', serif">120</text><text transform="translate(349.30,256.10) scale(1,1)" text-anchor="middle" font-size="7.1" fill="#1a1a1a" font-family="'Liberation Serif', serif">140</text><text transform="translate(192.40,250.50) scale(1,1)" text-anchor="end" font-size="7.2" fill="#1a1a1a" font-family="'Liberation Serif', serif">0</text><text transform="translate(192.40,233.52) scale(1,1)" text-anchor="end" font-size="7.2" fill="#1a1a1a" font-family="'Liberation Serif', serif">1</text><text transform="translate(192.40,216.53) scale(1,1)" text-anchor="end" font-size="7.2" fill="#1a1a1a" font-family="'Liberation Serif', serif">2</text><text transform="translate(192.40,199.55) scale(1,1)" text-anchor="end" font-size="7.2" fill="#1a1a1a" font-family="'Liberation Serif', serif">3</text><text transform="translate(192.40,182.57) scale(1,1)" text-anchor="end" font-size="7.2" fill="#1a1a1a" font-family="'Liberation Serif', serif">4</text><text transform="translate(192.40,165.58) scale(1,1)" text-anchor="end" font-size="7.2" fill="#1a1a1a" font-family="'Liberation Serif', serif">5</text><text transform="translate(192.40,148.60) scale(1,1)" text-anchor="end" font-size="7.2" fill="#1a1a1a" font-family="'Liberation Serif', serif">6</text><text x="270.20" y="143.00" text-anchor="middle" font-size="6.9" fill="#000" stroke="#000" stroke-width="0.12" font-family="'Liberation Serif', serif">d)</text><rect x="295.90" y="149.90" width="50.60" height="20.60" fill="#fff" stroke="#3a3a3a" stroke-width="0.7"/><line x1="300.10" y1="155.10" x2="310.40" y2="155.10" stroke="#ea1a22" stroke-width="1.45"/><text x="317.70" y="157.60" font-size="7.1" textLength="17.5" lengthAdjust="spacingAndGlyphs" fill="#000" stroke="#000" stroke-width="0.12" font-family="'Liberation Serif', serif">THOR</text><line x1="300.70" y1="161.10" x2="300.70" y2="167.70" stroke="#1a1a1a" stroke-width="0.9"/><line x1="298.10" y1="161.10" x2="303.30" y2="161.10" stroke="#1a1a1a" stroke-width="0.7"/><line x1="298.10" y1="167.70" x2="303.30" y2="167.70" stroke="#1a1a1a" stroke-width="0.7"/><ellipse cx="300.70" cy="164.40" rx="1.5" ry="2.2" fill="#1a1a1a"/><line x1="310.00" y1="161.10" x2="310.00" y2="167.70" stroke="#1a1a1a" stroke-width="0.9"/><line x1="307.40" y1="161.10" x2="312.60" y2="161.10" stroke="#1a1a1a" stroke-width="0.7"/><line x1="307.40" y1="167.70" x2="312.60" y2="167.70" stroke="#1a1a1a" stroke-width="0.7"/><ellipse cx="310.00" cy="164.40" rx="1.5" ry="2.2" fill="#1a1a1a"/><text x="317.70" y="166.80" font-size="7.0" textLength="25.0" lengthAdjust="spacingAndGlyphs" fill="#000" stroke="#000" stroke-width="0.12" font-family="'Liberation Serif', serif">Measured</text></g><text transform="translate(9.4,67.20) rotate(-90)" text-anchor="middle" font-size="7.4" fill="#000" stroke="#000" stroke-width="0.12" font-family="'Liberation Serif', serif">Electrical Conductivity (10<tspan font-size="4.6" dy="-2.6">4</tspan><tspan dy="2.6"> mho/m)</tspan></text><text transform="translate(9.4,199.80) rotate(-90)" text-anchor="middle" font-size="7.4" fill="#000" stroke="#000" stroke-width="0.12" font-family="'Liberation Serif', serif">Electrical Conductivity (10<tspan font-size="4.6" dy="-2.6">4</tspan><tspan dy="2.6"> mho/m)</tspan></text><text x="99.50" y="266.70" text-anchor="middle" font-size="7.3" fill="#111" stroke="#111" stroke-width="0.12" font-family="'Liberation Serif', serif">Time (&#956;s)</text><text x="272.50" y="266.70" text-anchor="middle" font-size="7.3" fill="#111" stroke="#111" stroke-width="0.12" font-family="'Liberation Serif', serif">Time (&#956;s)</text></svg>
</body></html>
